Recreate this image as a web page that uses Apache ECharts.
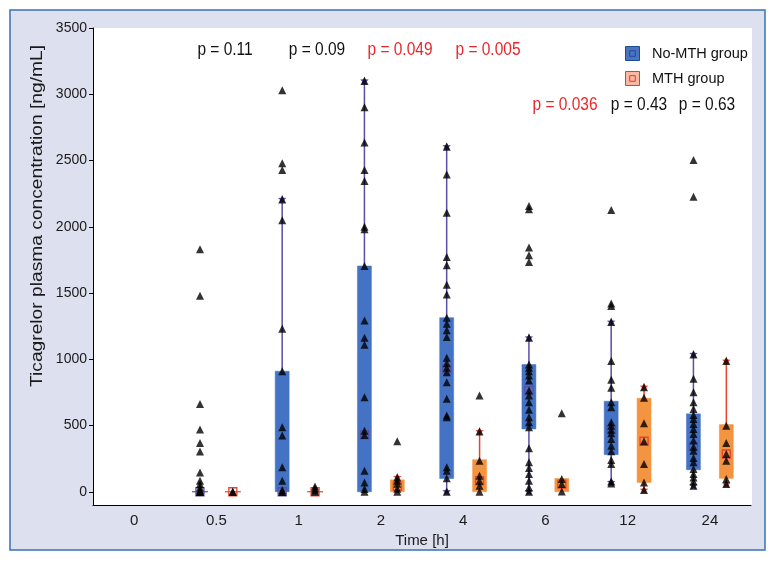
<!DOCTYPE html>
<html>
<head>
<meta charset="utf-8">
<script src="https://cdn.jsdelivr.net/npm/echarts@6/dist/echarts.min.js"></script>
<style>html,body{margin:0;padding:0;background:#fff}#c{width:775px;height:563px}</style>
</head>
<body>
<div id="c"></div>
<script>
// ---- data ----
const categories = ['0', '0.5', '1', '2', '4', '6', '12', '24'];
const yTicks = [0, 500, 1000, 1500, 2000, 2500, 3000, 3500];
const groupNames = ['No-MTH group', 'MTH group'];

// box statistics: [categoryIndex, min, q1, median, q3, max]
const noMthBox = [
  [1, 0, 0, 0, 0, 0],
  [2, 0, 0, 0, 910, 2206],
  [3, 0, 0, 430, 1704, 3100],
  [4, 0, 100, 925, 1314, 2604],
  [5, 0, 474, 764, 960, 1162],
  [6, 70, 280, 470, 683, 1281],
  [7, 45, 166, 340, 588, 1036]
];
const mthBox = [
  [1, 0, 0, 0, 0, 0],
  [2, 0, 0, 0, 0, 0],
  [3, 0, 0, 40, 90, 108],
  [4, 0, 0, 83, 242, 454],
  [5, 0, 0, 58, 100, 100],
  [6, 13, 70, 381, 706, 789],
  [7, 55, 101, 285, 507, 986]
];

// individual observations, indexed by category
const noMthPoints = [
  [],
  [1830, 1480, 663, 469, 368, 303, 146, 83, 58, 33, 13, 0, 0, 0],
  [3030, 2479, 2428, 2206, 2050, 1231, 910, 487, 424, 184, 83, 13, 0, 0],
  [3100, 2902, 2635, 2428, 2345, 2000, 1982, 1704, 1293, 1162, 1109, 713, 461, 429, 159, 70, 20, 0],
  [2604, 2395, 2105, 1772, 1709, 1563, 1488, 1314, 1268, 1218, 1167, 1011, 970, 935, 902, 827, 701, 575, 562, 184, 159, 101, 0],
  [2156, 2133, 1843, 1785, 1734, 1162, 960, 935, 910, 877, 840, 764, 726, 675, 618, 562, 524, 487, 328, 222, 179, 134, 83, 33, 0],
  [2126, 1420, 1402, 1281, 986, 845, 784, 675, 638, 524, 499, 467, 441, 399, 348, 305, 240, 210, 78, 63],
  [2504, 2226, 1036, 852, 751, 675, 625, 580, 550, 512, 474, 436, 386, 340, 310, 255, 222, 172, 134, 108, 78, 45]
];
const mthPoints = [
  [],
  [0, 0],
  [40, 25, 10, 0],
  [381, 108, 83, 60, 23, 0],
  [726, 454, 234, 121, 83, 45, 0],
  [592, 96, 58, 2],
  [789, 709, 517, 381, 210, 70, 13],
  [986, 499, 368, 285, 234, 96, 58]
];

const pRow1 = ['p = 0.11', 'p = 0.09', 'p = 0.049', 'p = 0.005'];
const pRow1Red = [false, false, true, true];
const pRow2 = ['p = 0.036', 'p = 0.43', 'p = 0.63'];
const pRow2Red = [true, false, false];

// ---- styling ----
const FONT = '"Liberation Sans", Arial, sans-serif';
const BLUE = '#4472c4', PURPLE = '#5a4fa6', ORANGE = '#f39440', RED = '#e8452f';

function toPoints(arr) {
  const out = [];
  arr.forEach((vals, i) => vals.forEach(v => out.push([i, v])));
  return out;
}

function starPoints(cx, cy, r) {
  const pts = [];
  for (let k = 0; k < 10; k++) {
    const a = -Math.PI / 2 + k * Math.PI / 5;
    const rr = k % 2 === 0 ? r : r * 0.45;
    pts.push([cx + rr * Math.cos(a), cy + rr * Math.sin(a)]);
  }
  return pts;
}

function makeRender(offFrac, fill, line) {
  return function (params, api) {
    const idx = api.value(0);
    const band = api.size([1, 0])[0];
    const cx = api.coord([idx, 0])[0] + band * offFrac;
    const w = band * 0.17;
    const yMin = api.coord([idx, api.value(1)])[1];
    const yQ1 = api.coord([idx, api.value(2)])[1];
    const yMed = api.coord([idx, api.value(3)])[1];
    const yQ3 = api.coord([idx, api.value(4)])[1];
    const yMax = api.coord([idx, api.value(5)])[1];
    const children = [];
    children.push({ type: 'line', shape: { x1: cx, y1: yMin, x2: cx, y2: yMax }, style: { stroke: line, lineWidth: 1.5 } });
    if (Math.abs(yQ1 - yQ3) < 1) {
      children.push({ type: 'line', shape: { x1: cx - w / 2 - 1, y1: yQ1, x2: cx + w / 2 + 1, y2: yQ1 }, style: { stroke: line, lineWidth: 1.2 } });
    } else {
      children.push({ type: 'rect', shape: { x: cx - w / 2, y: yQ3, width: w, height: yQ1 - yQ3 }, style: { fill: fill, stroke: fill, lineWidth: 0.5 } });
    }
    if (Math.abs(yMax - yQ3) > 1) {
      children.push({ type: 'polygon', shape: { points: starPoints(cx, yMax, 4.5) }, style: { fill: line } });
    }
    if (Math.abs(yMin - yQ1) > 1) {
      children.push({ type: 'polygon', shape: { points: starPoints(cx, yMin, 4.5) }, style: { fill: line } });
    }
    children.push({ type: 'rect', shape: { x: cx - 4, y: yMed - 4, width: 8, height: 8 }, style: { fill: 'none', stroke: line, lineWidth: 1.3 } });
    return { type: 'group', children: children };
  };
}

const chart = echarts.init(document.getElementById('c'), null, { renderer: 'canvas' });

const graphics = [
  { type: 'rect', z: -100, silent: true, shape: { x: 10, y: 10, width: 755, height: 540 }, style: { fill: '#dde0ee', stroke: '#3a70b6', lineWidth: 1.5 } },
  { type: 'rect', z: -99, silent: true, shape: { x: 93, y: 28, width: 659, height: 477 }, style: { fill: '#ffffff' } },
  { type: 'text', silent: true, x: 37, y: 216, rotation: Math.PI / 2, scaleX: 1.13, style: { text: 'Ticagrelor plasma concentration [ng/mL]', fill: '#1a1a1a', font: '17px ' + FONT, align: 'center', verticalAlign: 'middle' } }
];
const row1X = [225, 317, 400, 488];
pRow1.forEach((t, i) => graphics.push({ type: 'text', silent: true, x: row1X[i], y: 50, scaleX: 0.86, style: { text: t, fill: pRow1Red[i] ? '#e8262a' : '#111', font: '18px ' + FONT, align: 'center', verticalAlign: 'middle' } }));
const row2X = [565, 639, 707];
pRow2.forEach((t, i) => graphics.push({ type: 'text', silent: true, x: row2X[i], y: 105, scaleX: 0.86, style: { text: t, fill: pRow2Red[i] ? '#e8262a' : '#111', font: '18px ' + FONT, align: 'center', verticalAlign: 'middle' } }));

const ICON = 'path://M0,0L10,0L10,10L0,10Z M3,3L7,3L7,7L3,7Z';

chart.setOption({
  animation: false,
  backgroundColor: '#ffffff',
  graphic: graphics,
  grid: { left: 93, right: 24, top: 28, bottom: 58, containLabel: false },
  legend: {
    orient: 'vertical', left: 620, top: 41, itemWidth: 15, itemHeight: 14, itemGap: 10,
    textStyle: { fontFamily: FONT, fontSize: 14.5, color: '#111', padding: [0, 0, 0, 7] },
    data: [
      { name: groupNames[0], icon: ICON, itemStyle: { color: '#4a74c2', borderColor: '#1f4b96', borderWidth: 1 } },
      { name: groupNames[1], icon: ICON, itemStyle: { color: '#f8b8a2', borderColor: '#e53b2b', borderWidth: 1 } }
    ]
  },
  xAxis: {
    type: 'category', data: categories, boundaryGap: true,
    name: 'Time [h]', nameLocation: 'middle', nameGap: 28,
    nameTextStyle: { fontFamily: FONT, fontSize: 15, color: '#1a1a1a' },
    axisLine: { onZero: false, lineStyle: { color: '#000', width: 1 } },
    axisTick: { alignWithLabel: true, length: 4, lineStyle: { color: '#000' } },
    axisLabel: { fontFamily: FONT, fontSize: 15, color: '#1a1a1a', margin: 8 },
    splitLine: { show: false }
  },
  yAxis: {
    type: 'value', min: -100, max: 3500,
    axisLine: { show: true, lineStyle: { color: '#000', width: 1 } },
    axisTick: { show: true, length: 4, customValues: yTicks, lineStyle: { color: '#000' } },
    axisLabel: { fontFamily: FONT, fontSize: 14, color: '#1a1a1a', margin: 6, customValues: yTicks, formatter: v => String(v) },
    splitLine: { show: false }
  },
  series: [
    { name: groupNames[0], type: 'custom', renderItem: makeRender(-0.2, BLUE, PURPLE), itemStyle: { color: BLUE }, data: noMthBox, encode: { x: 0, y: [1, 2, 3, 4, 5] }, z: 2 },
    { name: groupNames[1], type: 'custom', renderItem: makeRender(0.2, ORANGE, RED), itemStyle: { color: ORANGE }, data: mthBox, encode: { x: 0, y: [1, 2, 3, 4, 5] }, z: 2 },
    { name: 'No-MTH points', type: 'scatter', symbol: 'triangle', symbolSize: 8, symbolOffset: [-16.4, 0], itemStyle: { color: '#000' }, data: toPoints(noMthPoints), z: 3, clip: false },
    { name: 'MTH points', type: 'scatter', symbol: 'triangle', symbolSize: 8, symbolOffset: [16.4, 0], itemStyle: { color: '#000' }, data: toPoints(mthPoints), z: 3, clip: false }
  ]
});
</script>
</body>
</html>
